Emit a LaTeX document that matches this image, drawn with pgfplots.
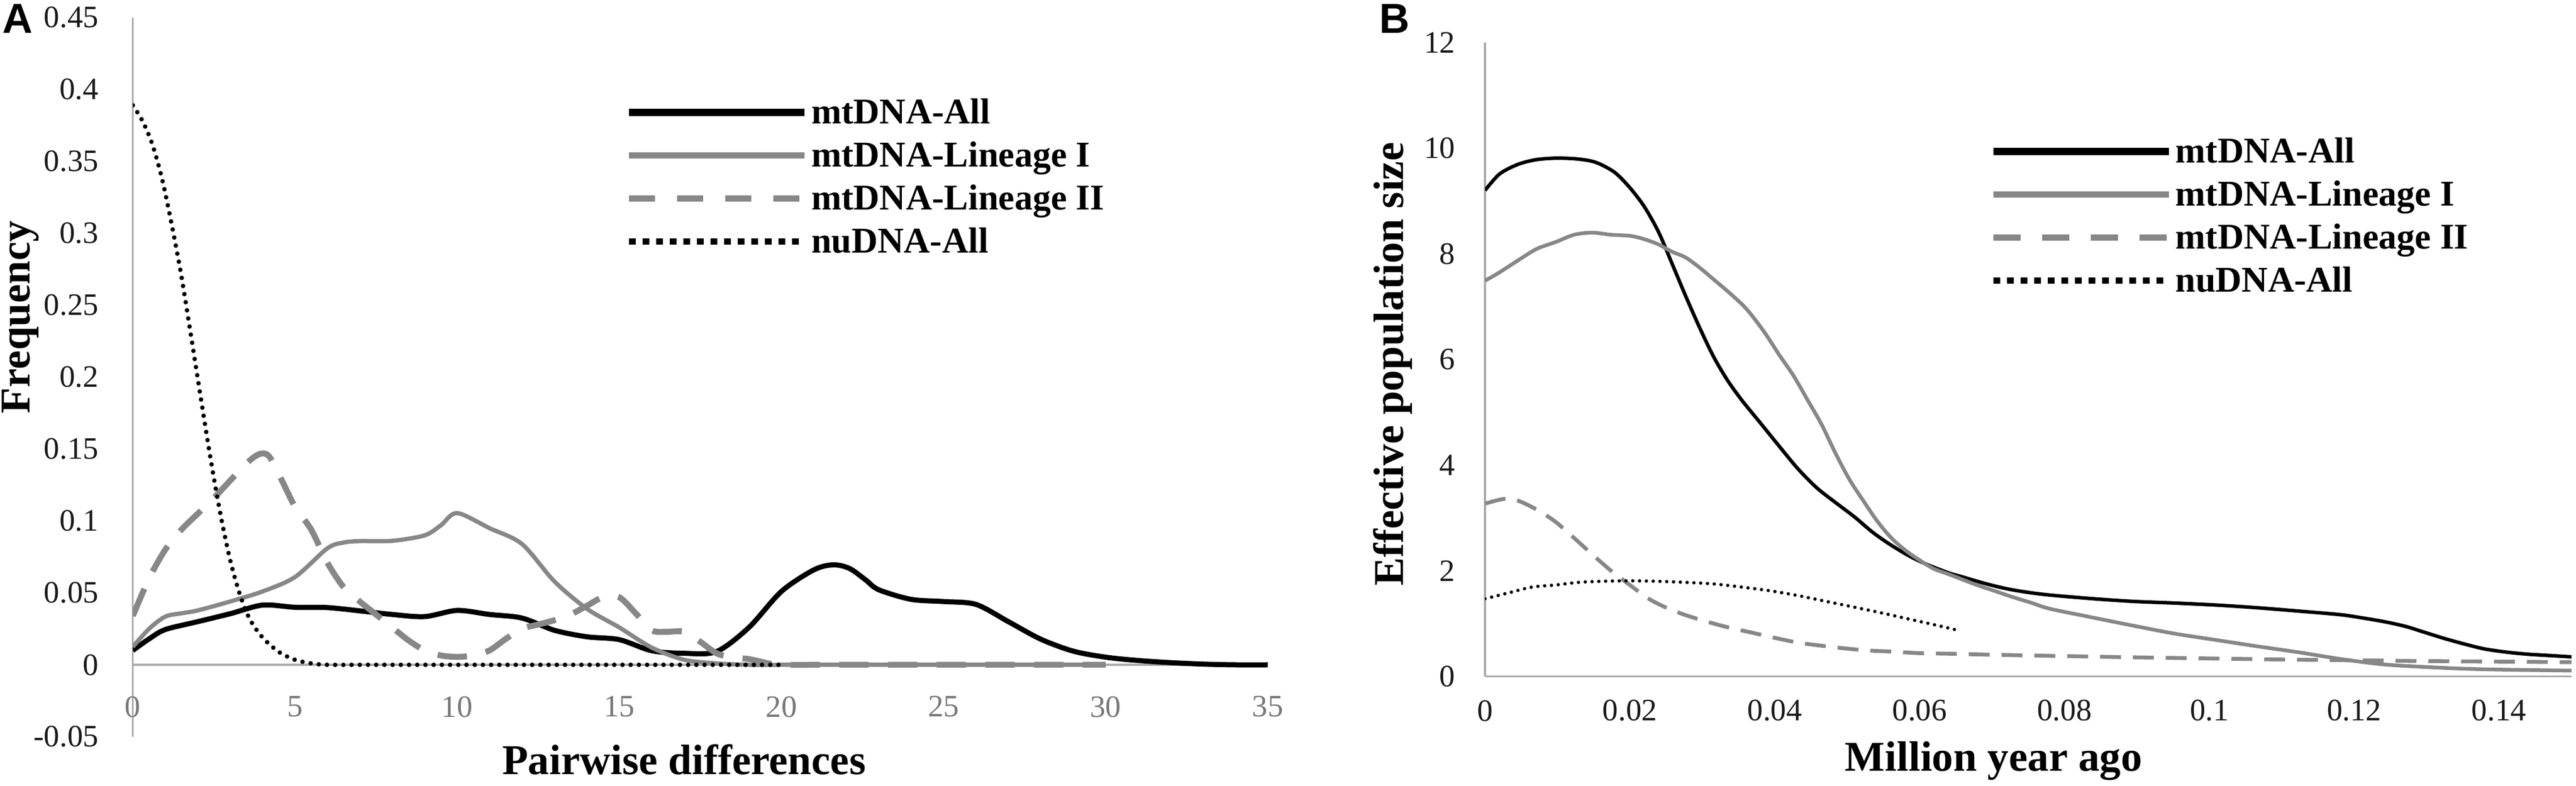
\documentclass[border=0pt]{standalone}
\usepackage{pgfplots}
\pgfplotsset{compat=1.18}
\usepackage{pgfplotstable}
\usepackage{fontspec}
\setmainfont{Liberation Serif}
\newfontfamily\panelfont{Liberation Sans}

\definecolor{axisgray}{RGB}{170,170,170}
\definecolor{linegray}{RGB}{135,135,135}
\definecolor{tickgray}{RGB}{120,120,120}
\definecolor{tickdark}{RGB}{25,25,25}

% ---------- Panel A data ----------
\pgfplotstableread{
x y
0 0.010
0.5 0.018
1 0.0245
2 0.030
3 0.0355
4 0.0415
5 0.040
6 0.0398
7 0.0375
8 0.035
9 0.0335
10 0.0378
11 0.035
12 0.0325
13 0.024
14 0.0195
15 0.0175
16 0.0098
17 0.008
18 0.0092
19 0.026
20 0.051
21 0.066
21.6 0.0695
22.1 0.067
22.6 0.059
23 0.0522
24 0.0455
25 0.044
26 0.042
27 0.030
28 0.0178
29 0.0095
30 0.0053
31 0.003
32 0.0015
33 0.0005
34 0
35 0
}\Aall

\pgfplotstableread{
x y
0 0.0125
0.5 0.025
1 0.0335
1.5 0.0358
2 0.0378
3 0.044
4 0.051
5 0.061
6 0.081
6.5 0.085
7 0.086
8 0.0862
9 0.090
9.5 0.097
10 0.1055
11 0.095
12 0.084
13 0.058
14 0.039
15 0.026
16 0.012
17 0.0035
18 0.001
19 0
20 0
21 0
22 0
23 0
24 0
25 0
26 0
27 0
28 0
29 0
30 0
}\Alinone

\pgfplotstableread{
x y
0 0.034
0.5 0.060
1 0.080
1.5 0.094
2 0.105
2.5 0.116
3 0.128
3.5 0.140
3.9 0.1465
4.2 0.145
4.6 0.128
5 0.110
5.5 0.094
6 0.071
6.5 0.054
7 0.044
7.5 0.035
8 0.026
8.5 0.017
9 0.010
9.5 0.0065
10 0.0055
10.5 0.0065
11 0.010
11.5 0.018
12 0.025
12.5 0.028
13 0.031
13.5 0.035
14 0.041
14.5 0.047
15 0.047
15.5 0.036
16 0.024
16.5 0.023
17 0.023
17.5 0.016
18 0.008
18.5 0.005
19 0.004
19.7 0.0005
20 0
21 0
22 0
23 0
24 0
25 0
26 0
27 0
28 0
29 0
30 0
}\Alintwo

\pgfplotstableread{
x y
0 0.389
0.3 0.378
0.6 0.362
0.9 0.338
1.2 0.306
1.5 0.27
1.8 0.228
2.1 0.185
2.4 0.143
2.7 0.105
3.0 0.073
3.3 0.049
3.6 0.032
4.0 0.019
4.5 0.009
5.0 0.0035
5.5 0.001
6 0
7 0
8 0
9 0
10 0
11 0
12 0
13 0
14 0
15 0
16 0
17 0
18 0
19 0
20 0
}\Anu

% ---------- Panel B data ----------
\pgfplotstableread{
x y
0 9.20
0.002 9.51
0.0045 9.69
0.007 9.78
0.0097 9.81
0.0123 9.80
0.0145 9.76
0.016 9.69
0.018 9.53
0.020 9.25
0.022 8.89
0.024 8.40
0.0258 7.82
0.0277 7.20
0.0297 6.58
0.0316 6.04
0.0335 5.60
0.0355 5.22
0.038 4.80
0.0406 4.36
0.0432 3.93
0.0458 3.57
0.0484 3.29
0.051 3.02
0.0535 2.73
0.056 2.49
0.0587 2.27
0.061 2.12
0.064 1.96
0.066 1.88
0.069 1.76
0.072 1.66
0.075 1.59
0.078 1.54
0.084 1.47
0.0895 1.42
0.095 1.39
0.101 1.35
0.1066 1.30
0.112 1.24
0.118 1.17
0.121 1.11
0.124 1.04
0.127 0.95
0.1296 0.84
0.1324 0.72
0.1353 0.61
0.138 0.52
0.141 0.46
0.144 0.42
0.147 0.395
0.15 0.37
}\Ball

\pgfplotstableread{
x y
0 7.49
0.0019 7.64
0.0045 7.87
0.0071 8.09
0.0097 8.22
0.0123 8.36
0.0148 8.40
0.0174 8.36
0.020 8.34
0.0219 8.28
0.0239 8.18
0.0258 8.04
0.0277 7.93
0.0297 7.73
0.0316 7.51
0.0335 7.29
0.0355 7.04
0.0368 6.84
0.0387 6.49
0.0406 6.09
0.0426 5.69
0.0445 5.24
0.0465 4.76
0.0484 4.22
0.0503 3.73
0.0523 3.31
0.0542 2.93
0.0561 2.62
0.0581 2.38
0.060 2.20
0.0619 2.04
0.0639 1.94
0.0658 1.84
0.0677 1.74
0.0703 1.62
0.0729 1.50
0.0755 1.39
0.078 1.28
0.0837 1.12
0.0895 0.96
0.0952 0.81
0.1009 0.69
0.1066 0.57
0.1124 0.455
0.1181 0.33
0.1238 0.23
0.1296 0.18
0.1353 0.145
0.141 0.127
0.15 0.11
}\Blinone

\pgfplotstableread{
x y
0 3.27
0.0026 3.36
0.0045 3.33
0.0071 3.16
0.0097 2.93
0.0123 2.62
0.0148 2.31
0.0174 2.0
0.020 1.73
0.0226 1.47
0.0252 1.29
0.0277 1.16
0.0303 1.05
0.0335 0.93
0.0368 0.83
0.040 0.73
0.0432 0.64
0.0465 0.58
0.0497 0.53
0.0529 0.49
0.0561 0.47
0.060 0.44
0.064 0.43
0.07 0.41
0.08 0.385
0.09 0.36
0.10 0.34
0.11 0.32
0.12 0.305
0.13 0.29
0.14 0.28
0.15 0.27
}\Blintwo

\pgfplotstableread{
x y
0 1.47
0.0032 1.58
0.00645 1.69
0.0097 1.73
0.0129 1.78
0.0161 1.80
0.020 1.81
0.0239 1.80
0.0277 1.78
0.0316 1.75
0.0355 1.69
0.0394 1.62
0.0432 1.53
0.0471 1.42
0.051 1.31
0.0548 1.20
0.0587 1.08
0.0626 0.96
0.0657 0.86
}\Bnu

\begin{document}
\begin{tikzpicture}
\path[use as bounding box] (0,0) rectangle (455pt,138.8pt);

\node[anchor=base west, inner sep=0pt, font=\fontsize{7.4}{8}\panelfont\bfseries] at (0.3pt,132.9pt) {A};
\node[anchor=base west, inner sep=0pt, font=\fontsize{7.4}{8}\panelfont\bfseries] at (243.4pt,132.9pt) {B};

% ================= Panel A =================
\begin{axis}[
  at={(23.46pt,8.7pt)}, anchor=south west,
  scale only axis, width=200.47pt, height=127pt,
  xmin=0, xmax=35, ymin=-0.05, ymax=0.45,
  axis lines*=left,
  axis line style={axisgray, line width=0.35pt},
  x axis line style={draw=none},
  xtick={0,5,10,15,20,25,30,35},
  xticklabels={0,5,10,15,20,25,30,35},
  ytick={-0.05,0,0.05,0.1,0.15,0.2,0.25,0.3,0.35,0.4,0.45},
  yticklabels={-0.05,0,0.05,0.1,0.15,0.2,0.25,0.3,0.35,0.4,0.45},
  scaled ticks=false,
  major tick length=0pt, tick style={draw=none},
  tick label style={font=\fontsize{5.5}{6}\selectfont, inner sep=0pt},
  xticklabel style={anchor=center, yshift=5.3pt, text=tickgray},
  yticklabel style={anchor=east, xshift=-5.85pt, text=tickdark},
  extra y ticks={0}, extra y tick labels={},
  extra y tick style={grid=major},
  major grid style={axisgray, line width=0.35pt},
  xlabel={Pairwise differences}, ylabel={Frequency},
  label style={font=\fontsize{7.5}{9}\selectfont\bfseries},
  xlabel style={at={(axis description cs:0.4856,0)}, anchor=base, yshift=-6.7pt},
  ylabel style={at={(axis description cs:-0.0991,0.5835)}, anchor=center},
  legend image code/.code={\draw[#1] (0pt,2pt) -- (31pt,2pt);},
  legend style={at={(axis description cs:0.4327,0.8886)}, anchor=north west,
    draw=none, fill=none, inner sep=0pt, row sep=1.8pt, column sep=0.6pt,
    font=\fontsize{6.4}{7}\selectfont\bfseries,
    nodes={inner sep=0pt, text height=4.4pt, text depth=1.4pt},
    cells={anchor=base west}},
]
\addplot[forget plot, black, line width=0.9pt, smooth] table {\Aall};
\addplot[forget plot, linegray, line width=0.75pt, smooth] table {\Alinone};
\addplot[forget plot, linegray, line width=1.05pt, smooth, dash pattern=on 5.2pt off 3.4pt] table {\Alintwo};
\addplot[forget plot, black, line width=0.8pt, smooth, line cap=round, dash pattern=on 0pt off 1.45pt] table {\Anu};
\addlegendimage{black, line width=1.3pt}
\addlegendentry{mtDNA-All}
\addlegendimage{linegray, line width=1.1pt}
\addlegendentry{mtDNA-Lineage I}
\addlegendimage{linegray, line width=1.1pt, dash pattern=on 4.6pt off 3.9pt}
\addlegendentry{mtDNA-Lineage II}
\addlegendimage{black, line width=1.1pt, dash pattern=on 1.2pt off 1.2pt}
\addlegendentry{nuDNA-All}
\end{axis}

% ================= Panel B =================
\begin{axis}[
  at={(262.3pt,19.35pt)}, anchor=south west,
  scale only axis, width=191.9pt, height=111.95pt,
  xmin=0, xmax=0.15, ymin=0, ymax=12,
  axis lines*=left,
  axis line style={axisgray, line width=0.35pt},
  xtick={0,0.02,0.04,0.06,0.08,0.1,0.12,0.14},
  xticklabels={0,0.02,0.04,0.06,0.08,0.1,0.12,0.14},
  ytick={0,2,4,6,8,10,12},
  yticklabels={0,2,4,6,8,10,12},
  scaled ticks=false,
  major tick length=0pt, tick style={draw=none},
  tick label style={font=\fontsize{5.5}{6}\selectfont, inner sep=0pt, text=tickdark},
  xticklabel style={anchor=center, yshift=-6.05pt},
  yticklabel style={anchor=east, xshift=-5.1pt},
  xlabel={Million year ago}, ylabel={Effective population size},
  label style={font=\fontsize{7.5}{9}\selectfont\bfseries},
  xlabel style={at={(axis description cs:0.468,0)}, anchor=base, yshift=-16.75pt},
  ylabel style={at={(axis description cs:-0.0849,0.4926)}, anchor=center},
  legend image code/.code={\draw[#1] (0pt,2pt) -- (31pt,2pt);},
  legend style={at={(axis description cs:0.4633,0.8517)}, anchor=north west,
    draw=none, fill=none, inner sep=0pt, row sep=1.8pt, column sep=0.55pt,
    font=\fontsize{6.4}{7}\selectfont\bfseries,
    nodes={inner sep=0pt, text height=4.4pt, text depth=1.4pt},
    cells={anchor=base west}},
]
\addplot[forget plot, black, line width=0.62pt, smooth] table {\Ball};
\addplot[forget plot, linegray, line width=0.65pt, smooth] table {\Blinone};
\addplot[forget plot, linegray, line width=0.68pt, smooth, dash pattern=on 3.7pt off 2.1pt] table {\Blintwo};
\addplot[forget plot, black, line width=0.6pt, smooth, line cap=round, dash pattern=on 0pt off 1.2pt] table {\Bnu};
\addlegendimage{black, line width=1.3pt}
\addlegendentry{mtDNA-All}
\addlegendimage{linegray, line width=1.1pt}
\addlegendentry{mtDNA-Lineage I}
\addlegendimage{linegray, line width=1.1pt, dash pattern=on 4.8pt off 3.8pt}
\addlegendentry{mtDNA-Lineage II}
\addlegendimage{black, line width=1.1pt, dash pattern=on 1.2pt off 1.2pt}
\addlegendentry{nuDNA-All}
\end{axis}
\end{tikzpicture}
\end{document}
